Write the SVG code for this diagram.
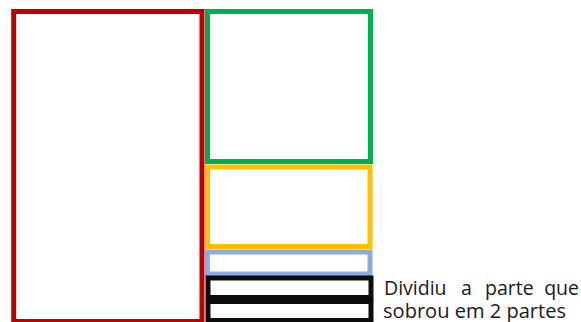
<svg xmlns="http://www.w3.org/2000/svg" width="581" height="322" viewBox="0 0 581 322">
<style>
.b{fill:none;stroke-width:5}
.t{font-family:"Open Sans",sans-serif;font-size:19.5px;fill:#1a1a1a}
</style>
<rect width="581" height="322" fill="#fff"/>
<g id="red"><rect class="b" x="13.7" y="11.5" width="188.3" height="310" stroke="#C00000"/></g>
<g id="green"><rect class="b" x="207.5" y="11.5" width="163" height="150" stroke="#00B050"/></g>
<g id="yellow"><rect class="b" x="207.5" y="167" width="162.5" height="79.5" stroke="#FFC000"/></g>
<g id="blue"><rect class="b" x="207.3" y="252" width="162.7" height="22" stroke="#8FAADC"/></g>
<g id="black1"><rect class="b" x="208" y="278" width="163" height="19.5" stroke="#0D0D0D"/></g>
<g id="black2"><rect class="b" x="208" y="301.5" width="163" height="19" stroke="#0D0D0D"/></g>
<g id="label">
<text class="t" x="384" y="294.5">Dividiu</text>
<text class="t" x="461" y="294.5">a</text>
<text class="t" x="485" y="294.5">parte</text>
<text class="t" x="579" y="294.5" text-anchor="end">que</text>
<text class="t" x="383" y="318" textLength="183" lengthAdjust="spacingAndGlyphs">sobrou em 2 partes</text>
</g>
</svg>
